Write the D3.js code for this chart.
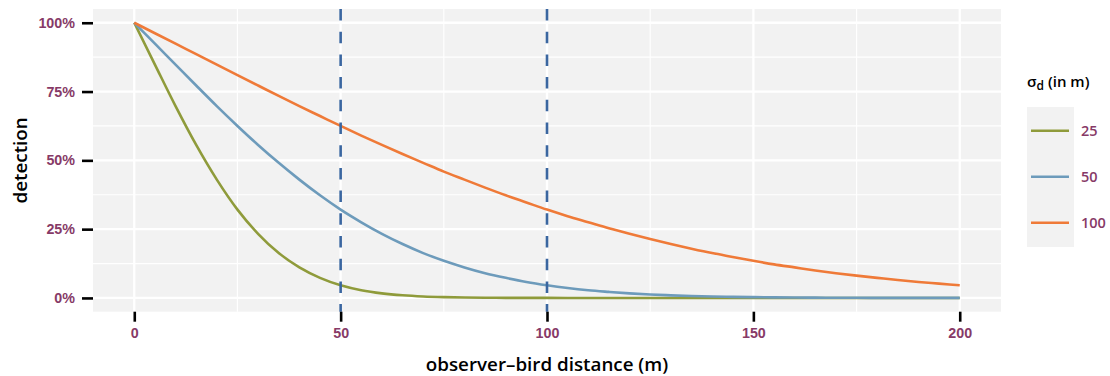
<!DOCTYPE html>
<html>
<head>
<meta charset="utf-8">
<script src="https://cdn.jsdelivr.net/npm/d3@7"></script>
<style>
  body { margin: 0; background: #fff; }
  svg { font-family: "Open Sans", Lato, sans-serif; }
</style>
</head>
<body>
<div id="chart"></div>
<script>
// distances (m) and detection (%) per sigma_d
const distance = d3.range(0, 201, 5);
const det25 = [100, 84.8, 69.7, 55.6, 43.0, 32.1, 23.3, 16.3, 11.1, 7.3, 4.6, 2.8, 1.66, 0.95, 0.52, 0.28, 0.14, 0.07, 0.03, 0.015,
  0.006, 0, 0, 0, 0, 0, 0, 0, 0, 0, 0, 0, 0, 0, 0, 0, 0, 0, 0, 0, 0];
const det50 = [100, 92.4, 84.8, 77.2, 69.7, 62.5, 55.6, 49.1, 43.0, 37.3, 32.1, 27.5, 23.3, 19.6, 16.3, 13.5, 11.1, 9.0, 7.3, 5.8,
  4.6, 3.6, 2.8, 2.2, 1.66, 1.25, 0.95, 0.70, 0.52, 0.38, 0.28, 0.20, 0.14, 0.10, 0.07, 0.05, 0.03, 0.02, 0.015, 0.01, 0.006];
const det100 = [100, 96.2, 92.4, 88.6, 84.8, 81.0, 77.2, 73.4, 69.7, 66.1, 62.5, 59.0, 55.6, 52.3, 49.1, 45.9, 43.0, 40.1, 37.3, 34.7,
  32.1, 29.7, 27.5, 25.3, 23.3, 21.4, 19.6, 17.9, 16.3, 14.9, 13.5, 12.2, 11.1, 10.0, 9.0, 8.1, 7.3, 6.5, 5.8, 5.2, 4.6];
const sigmas = ["25", "50", "100"];
const colors = ["#8f9b3b", "#6d9bbb", "#ef7a38"];
const cutoffs = [50, 100];
const xTicks = [0, 50, 100, 150, 200];
const yTicks = [0, 0.25, 0.5, 0.75, 1];

const width = 1110, height = 376;
const panel = { left: 93, right: 1001, top: 9, bottom: 311.7 };
const labelColor = "#873a67";

const svg = d3.select("#chart").append("svg")
  .attr("width", width)
  .attr("height", height);

const x = d3.scaleLinear().domain([-10, 210]).range([panel.left, panel.right]);
const y = d3.scaleLinear().domain([-0.05, 1.05]).range([panel.bottom, panel.top]);

svg.append("rect")
  .attr("x", panel.left).attr("y", panel.top)
  .attr("width", panel.right - panel.left)
  .attr("height", panel.bottom - panel.top)
  .attr("fill", "#f2f2f2");

// grid
const xMinor = [25, 75, 125, 175];
const yMinor = [0.125, 0.375, 0.625, 0.875];
const grid = svg.append("g").attr("stroke", "#fff");
grid.selectAll(".xminor").data(xMinor).enter().append("line")
  .attr("x1", d => x(d)).attr("x2", d => x(d))
  .attr("y1", panel.top).attr("y2", panel.bottom).attr("stroke-width", 1.2);
grid.selectAll(".yminor").data(yMinor).enter().append("line")
  .attr("y1", d => y(d)).attr("y2", d => y(d))
  .attr("x1", panel.left).attr("x2", panel.right).attr("stroke-width", 1.2);
grid.selectAll(".xmajor").data(xTicks).enter().append("line")
  .attr("x1", d => x(d)).attr("x2", d => x(d))
  .attr("y1", panel.top).attr("y2", panel.bottom).attr("stroke-width", 2.3);
grid.selectAll(".ymajor").data(yTicks).enter().append("line")
  .attr("y1", d => y(d)).attr("y2", d => y(d))
  .attr("x1", panel.left).attr("x2", panel.right).attr("stroke-width", 2.3);

// curves
const series = [det25, det50, det100].map((vals, i) => ({
  sigma: sigmas[i],
  color: colors[i],
  points: distance.map((d, j) => ({ d: d, p: vals[j] / 100 }))
}));

const line = d3.line()
  .x(d => x(d.d))
  .y(d => y(d.p))
  .curve(d3.curveMonotoneX);

svg.append("g").selectAll("path")
  .data(series)
  .enter().append("path")
  .attr("d", s => line(s.points))
  .attr("fill", "none")
  .attr("stroke", s => s.color)
  .attr("stroke-width", 2.6);

// cutoff lines
svg.append("g").selectAll("line")
  .data(cutoffs)
  .enter().append("line")
  .attr("x1", d => x(d)).attr("x2", d => x(d))
  .attr("y1", panel.top).attr("y2", panel.bottom)
  .attr("stroke", "#3a66a0")
  .attr("stroke-width", 2.6)
  .attr("stroke-dasharray", "11.5,11.2");

// axes
const xAxis = svg.append("g")
  .attr("transform", `translate(0,${panel.bottom})`)
  .call(d3.axisBottom(x).tickValues(xTicks).tickSize(10).tickPadding(6).tickFormat(d3.format("d")));
const yAxis = svg.append("g")
  .attr("transform", `translate(${panel.left},0)`)
  .call(d3.axisLeft(y).tickValues(yTicks).tickSize(11).tickPadding(7).tickFormat(d3.format(".0%")));

[xAxis, yAxis].forEach(ax => {
  ax.select(".domain").remove();
  ax.selectAll(".tick line").attr("stroke", "#000").attr("stroke-width", 2.6);
  ax.selectAll(".tick text")
    .attr("fill", labelColor)
    .attr("font-size", 14.3)
    .attr("font-weight", 600);
});

// axis titles
svg.append("text")
  .attr("x", (panel.left + panel.right) / 2)
  .attr("y", 371)
  .attr("text-anchor", "middle")
  .attr("font-size", 18.8)
  .attr("font-weight", 600)
  .text("observer–bird distance (m)");

svg.append("text")
  .attr("transform", `translate(27,${(panel.top + panel.bottom) / 2}) rotate(-90)`)
  .attr("text-anchor", "middle")
  .attr("font-size", 18.8)
  .attr("font-weight", 600)
  .text("detection");

// legend
const legend = svg.append("g");
const title = legend.append("text")
  .attr("x", 1027).attr("y", 87)
  .attr("font-size", 15)
  .attr("font-weight", 600);
title.append("tspan").text("σ");
title.append("tspan").attr("font-size", 12).attr("dy", 3).text("d");
title.append("tspan").attr("dy", -3).attr("dx", 4).text("(in m)");

legend.append("rect")
  .attr("x", 1027).attr("y", 107)
  .attr("width", 47).attr("height", 140)
  .attr("fill", "#f2f2f2");

const keys = legend.selectAll(".key")
  .data(series)
  .enter().append("g")
  .attr("transform", (d, i) => `translate(0,${130.7 + i * 46})`);
keys.append("line")
  .attr("x1", 1031).attr("x2", 1069)
  .attr("stroke", d => d.color)
  .attr("stroke-width", 2.6);
keys.append("text")
  .attr("x", 1081).attr("dy", "0.35em")
  .attr("fill", labelColor)
  .attr("font-size", 14.5)
  .attr("font-weight", 600)
  .text(d => d.sigma);
</script>
</body>
</html>
